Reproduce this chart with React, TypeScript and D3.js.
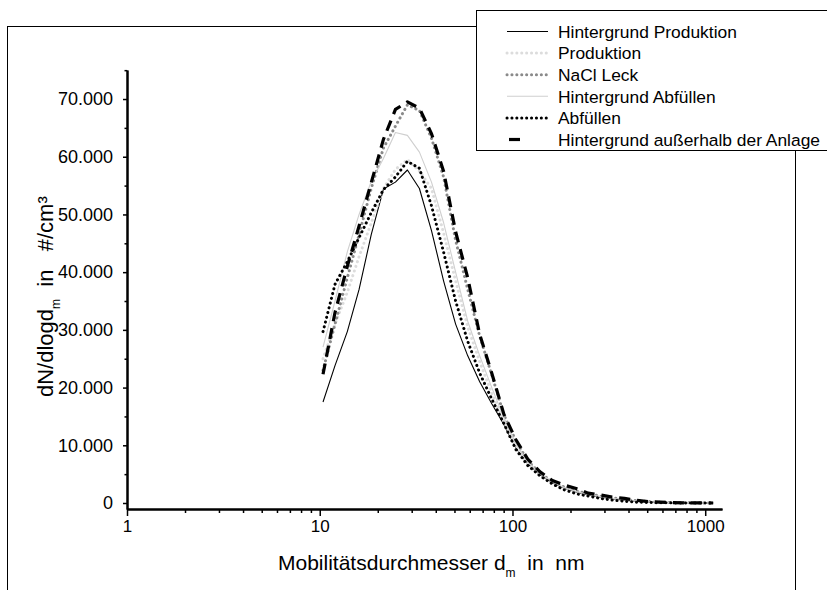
import React, { useEffect, useRef } from 'react';
import * as d3 from 'd3';

// Mobilitätsdurchmesser in nm (gemeinsames Raster für alle Messreihen)
const diameters = [10.4, 12.0, 13.9, 16.0, 18.5, 21.4, 24.7, 28.5, 32.9, 38.0, 43.9, 50.7, 58.6, 67.6, 78.1, 90.2, 104, 120, 139, 161, 185, 214, 247, 286, 330, 381, 440, 508, 587, 678, 783, 904, 1044, 1100];

// dN/dlogdm in #/cm³
const hintergrundProduktion = [17500, 23800, 29700, 37000, 46500, 54400, 55600, 57700, 54500, 47200, 38500, 31000, 25500, 21000, 17200, 13600, 9600, 6800, 4900, 3500, 2600, 1900, 1400, 1000, 750, 500, 330, 200, 110, 60, 30, 15, 5, 0];
const produktion = [25000, 31000, 36500, 42700, 48500, 54500, 57800, 59500, 57500, 54500, 46800, 38500, 30500, 24500, 19000, 14200, 10000, 7000, 5000, 3600, 2600, 2000, 1500, 1100, 800, 550, 350, 200, 120, 60, 30, 15, 5, 0];
const naclLeck = [23000, 31000, 39000, 46500, 54500, 61500, 65300, 69000, 68000, 63200, 56500, 45500, 37000, 28900, 22200, 15300, 10800, 7300, 5200, 3700, 2800, 2100, 1600, 1200, 900, 600, 400, 250, 140, 70, 30, 15, 5, 0];
const hintergrundAbfuellen = [27000, 35000, 43500, 50000, 55700, 59700, 64200, 63700, 60800, 55600, 48600, 40000, 31500, 25500, 20000, 14800, 10400, 7100, 5100, 3700, 2700, 2000, 1500, 1100, 800, 550, 350, 200, 120, 60, 30, 15, 5, 0];
const abfuellen = [29700, 37900, 41800, 46000, 50300, 54300, 56500, 59200, 58000, 51500, 43500, 35000, 28000, 22500, 18000, 13800, 9300, 6500, 4700, 3300, 2300, 1600, 1200, 800, 500, 300, 150, 80, 40, 20, 10, 5, 0, 0];
const hintergrundAusserhalb = [22300, 33000, 41000, 48000, 55500, 63000, 68200, 69500, 68400, 64000, 57500, 47000, 39000, 29200, 22500, 15400, 11000, 7600, 5400, 3900, 3100, 2500, 1700, 1400, 1000, 800, 450, 250, 150, 70, 30, 10, 5, 0];

const yTicks = [0, 10000, 20000, 30000, 40000, 50000, 60000, 70000];
const yMinorTicks = [5000, 15000, 25000, 35000, 45000, 55000, 65000, 75000];
const xTicks = [1, 10, 100, 1000];
const xMinorTicks = [2, 3, 4, 5, 6, 7, 8, 9, 20, 30, 40, 50, 60, 70, 80, 90, 200, 300, 400, 500, 600, 700, 800, 900];

const series = [
  { name: 'Hintergrund Produktion', values: hintergrundProduktion, color: '#000000', width: 1.1, dash: null },
  { name: 'Produktion', values: produktion, color: '#dcdcdc', width: 3, dash: 'dot' },
  { name: 'NaCl Leck', values: naclLeck, color: '#8a8a8a', width: 3, dash: 'dot' },
  { name: 'Hintergrund Abfüllen', values: hintergrundAbfuellen, color: '#cfcfcf', width: 1.1, dash: null },
  { name: 'Abfüllen', values: abfuellen, color: '#000000', width: 3, dash: 'dot' },
  { name: 'Hintergrund außerhalb der Anlage', values: hintergrundAusserhalb, color: '#000000', width: 3.2, dash: 'dash' }
];

const FONT = '"Liberation Sans", Arial, sans-serif';

const App = () => {
  const svgRef = useRef<SVGSVGElement>(null);

  useEffect(() => {
    if (!svgRef.current) return;
    const svg = d3.select(svgRef.current);
    svg.selectAll('*').remove();

    const x = d3.scaleLog().domain([1, 1222]).range([127, 722]);
    const y = d3.scaleLinear().domain([-1040, 75030]).range([509, 70]);

    const de = d3.formatLocale({ decimal: ',', thousands: '.', grouping: [3], currency: ['', '€'] });
    const fmt = de.format(',d');

    // äußerer Rahmen
    svg.append('rect')
      .attr('x', 7.5).attr('y', 26.5)
      .attr('width', 788).attr('height', 620)
      .attr('fill', 'none').attr('stroke', '#000').attr('stroke-width', 1);

    // y-Achse
    const yAxis = svg.append('g').attr('transform', 'translate(127,0)')
      .call(d3.axisLeft(y).tickValues(yTicks).tickSize(4).tickSizeOuter(0).tickPadding(10).tickFormat(d => fmt(d as number)));
    svg.append('g').attr('transform', 'translate(127,0)')
      .call(d3.axisLeft(y).tickValues(yMinorTicks).tickSize(2.5).tickSizeOuter(0).tickFormat(() => ''));

    // x-Achse
    const xAxis = svg.append('g').attr('transform', 'translate(0,509)')
      .call(d3.axisBottom(x).tickValues(xTicks).tickSize(7).tickSizeOuter(0).tickPadding(4).tickFormat(d3.format('d')));
    svg.append('g').attr('transform', 'translate(0,509)')
      .call(d3.axisBottom(x).tickValues(xMinorTicks).tickSize(4).tickSizeOuter(0).tickFormat(() => ''));

    svg.selectAll('.domain').attr('stroke', '#000').attr('stroke-width', 2);
    svg.selectAll('.tick line').attr('stroke', '#000').attr('stroke-width', 1.5);
    yAxis.selectAll('text')
      .attr('fill', '#000').style('font-family', FONT).style('font-size', '18px');
    xAxis.selectAll('text')
      .attr('fill', '#000').style('font-family', FONT).style('font-size', '17px');

    // Kurven
    const line = d3.line<number>()
      .x((_, i) => x(diameters[i]))
      .y(d => y(d));

    const styleLine = (sel, s) => {
      sel.attr('fill', 'none')
        .attr('stroke', s.color)
        .attr('stroke-width', s.width)
        .attr('stroke-linejoin', 'round');
      if (s.dash === 'dot') sel.attr('stroke-dasharray', '0.1,4.8').attr('stroke-linecap', 'round');
      if (s.dash === 'dash') sel.attr('stroke-dasharray', '11,7');
    };

    series.forEach(s => {
      svg.append('path').datum(s.values).attr('d', line).call(p => styleLine(p, s));
    });

    // Achsentitel
    const xt = svg.append('text')
      .attr('x', 278).attr('y', 570)
      .style('font-family', FONT).style('font-size', '21px')
      .style('white-space', 'pre').attr('fill', '#000');
    xt.append('tspan').text('Mobilitätsdurchmesser d');
    xt.append('tspan').attr('dy', 7).style('font-size', '12px').text('m');
    xt.append('tspan').attr('dy', -7).text('  in  nm');

    const yt = svg.append('text')
      .attr('transform', 'translate(53,397) rotate(-90)')
      .style('font-family', FONT).style('font-size', '22px')
      .style('white-space', 'pre').attr('fill', '#000');
    yt.append('tspan').text('dN/dlogd');
    yt.append('tspan').attr('dy', 7).style('font-size', '12px').text('m');
    yt.append('tspan').attr('dy', -7).text('  in   #/cm³');

    // Legende
    svg.append('rect')
      .attr('x', 476.5).attr('y', 10.5)
      .attr('width', 380).attr('height', 140)
      .attr('fill', '#fff').attr('stroke', '#000').attr('stroke-width', 1);

    series.forEach((s, i) => {
      const ly = 31.5 + i * 21.6;
      const sample = svg.append('line')
        .attr('x1', s.dash === 'dash' ? 509 : 507)
        .attr('x2', s.dash === 'dash' ? 520 : 548)
        .attr('y1', ly).attr('y2', ly);
      styleLine(sample, s);
      if (s.dash === 'dash') sample.attr('stroke-dasharray', null);
      svg.append('text')
        .attr('x', 558).attr('y', ly).attr('dy', '0.36em')
        .style('font-family', FONT).style('font-size', '17.4px')
        .attr('fill', '#000')
        .text(s.name);
    });
  }, []);

  return (
    <svg
      ref={svgRef}
      width={827}
      height={590}
      style={{ position: 'absolute', left: 0, top: 0, background: '#fff' }}
    />
  );
};

export default App;
